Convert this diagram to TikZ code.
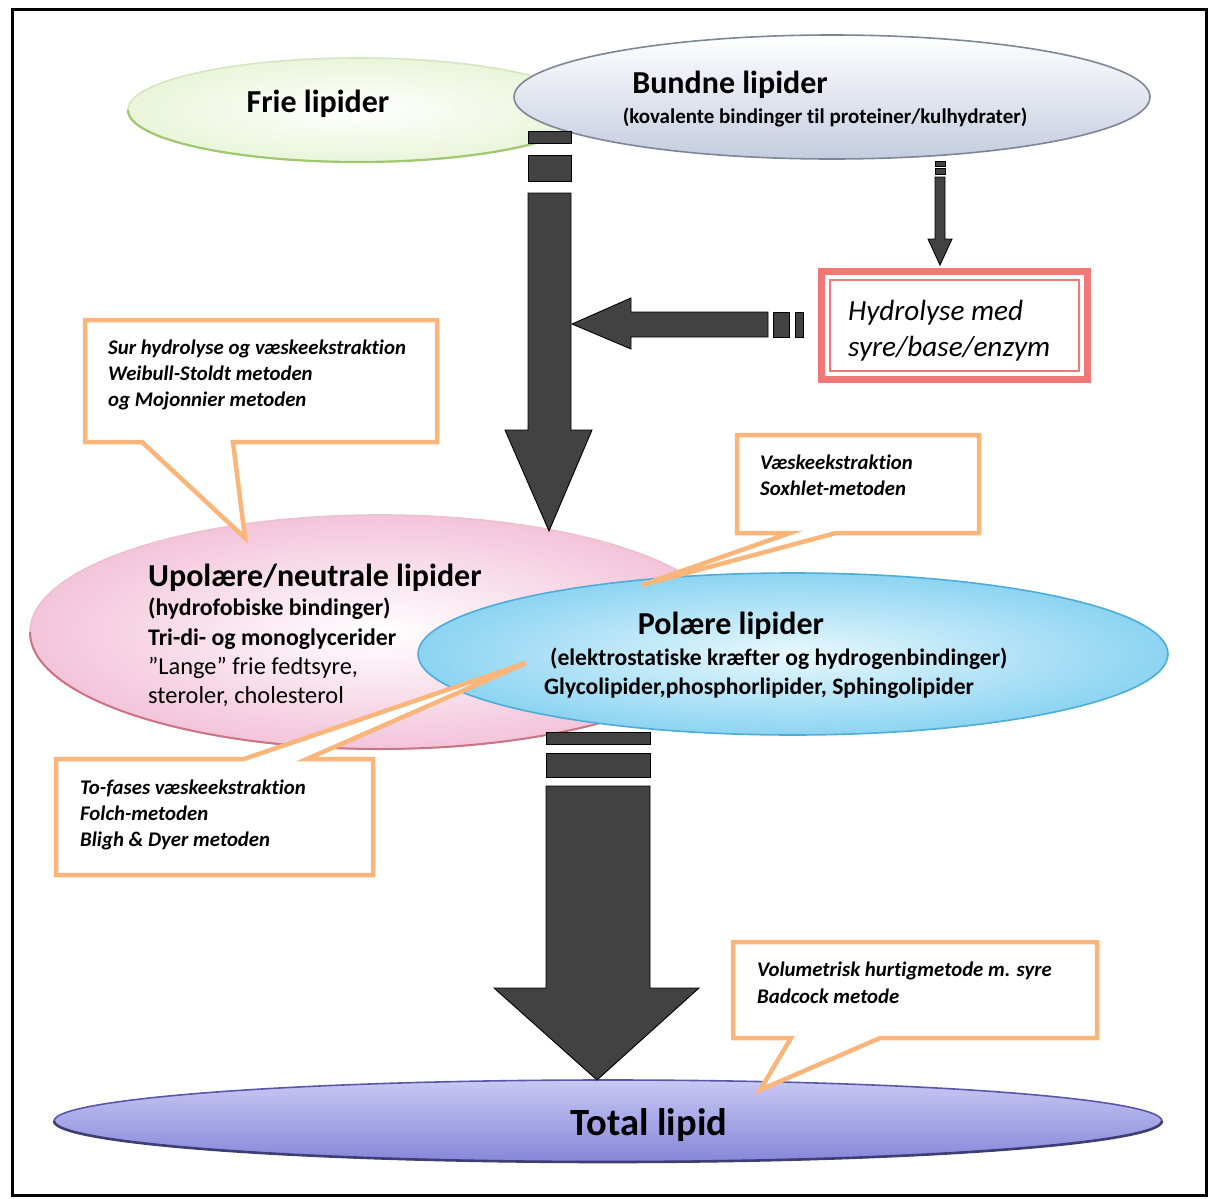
\documentclass[tikz,border=0pt]{standalone}
\usepackage{fontspec}
\setmainfont[Ligatures=NoCommon]{Carlito}
\usetikzlibrary{shapes.geometric}

\definecolor{arrowgray}{RGB}{66,66,66}
\definecolor{calloutorange}{RGB}{250,182,122}
\definecolor{hydrored}{RGB}{241,120,118}
\definecolor{frieedge}{RGB}{160,200,110}
\definecolor{frieouter}{RGB}{234,245,218}
\definecolor{bundneedge}{RGB}{125,134,150}
\definecolor{bundnebot}{RGB}{196,204,224}
\definecolor{pinkouter}{RGB}{243,196,218}
\definecolor{pinkedge}{RGB}{226,150,170}
\definecolor{pinkdark}{RGB}{190,80,100}
\definecolor{blueinner}{RGB}{232,248,253}
\definecolor{blueouter}{RGB}{140,212,242}
\definecolor{blueedge}{RGB}{78,172,216}
\definecolor{totaltop}{RGB}{200,200,244}
\definecolor{totalmid}{RGB}{170,170,236}
\definecolor{totalbot}{RGB}{134,134,218}
\definecolor{totaledge}{RGB}{88,88,170}

\begin{document}
\begin{tikzpicture}[x=1pt,y=-1pt,
  blob/.style={ellipse, inner sep=0pt, outer sep=0pt, line width=1.6pt},
  blockarrow/.style={fill=arrowgray, draw=black, line width=0.9pt, line join=miter},
  callout/.style={fill=white, draw=calloutorange, line width=4.5pt, line join=miter},
  titletext/.style={font=\bfseries\fontsize{32}{36}\selectfont, inner sep=0pt, anchor=base},
  upolbold/.style={font=\bfseries\fontsize{23.8}{26}\selectfont, inner sep=0pt, anchor=base west},
  upolplain/.style={font=\fontsize{24.4}{26}\selectfont, inner sep=0pt, anchor=base west},
  polarline/.style={font=\bfseries\fontsize{23.6}{26}\selectfont, inner sep=0pt, anchor=base west},
  notetext/.style={font=\bfseries\itshape\fontsize{20.8}{24}\selectfont, inner sep=0pt, anchor=base west},
  hydrotext/.style={font=\itshape\fontsize{29.2}{32}\selectfont, inner sep=0pt, anchor=base west}
]
\useasboundingbox (0,0) rectangle (1211,1199);
\fill[white] (0,0) rectangle (1211,1199);

% outer frame
\draw[line width=3pt] (12,10) rectangle (1206,1195);

% ---- lipid classes ----
\node[blob, minimum width=460pt, minimum height=104pt, draw=frieedge!45,
      inner color=white, outer color=frieouter] (frie) at (358,110) {};
\draw[frieedge, line width=2.2pt] (frie.west) arc[start angle=180, end angle=360, x radius=230pt, y radius=52pt];

\node[blob, minimum width=636pt, minimum height=124pt, draw=bundneedge,
      top color=white, bottom color=bundnebot] (bundne) at (832,97) {};

\node[blob, minimum width=700pt, minimum height=234pt, draw=pinkedge!60,
      inner color=white, outer color=pinkouter] (upol) at (380,632) {};
\draw[pinkdark!80, line width=2pt] (upol.west) arc[start angle=180, end angle=360, x radius=350pt, y radius=117pt];

\node[blob, minimum width=750pt, minimum height=162pt, draw=blueedge,
      inner color=blueinner, outer color=blueouter] (polar) at (793,654) {};

\node[blob, minimum width=1108pt, minimum height=82pt, draw=totaledge,
      top color=totaltop, middle color=totalmid, bottom color=totalbot] (total) at (608,1121) {};
\draw[totaledge!70!black, line width=2.6pt] (total.west) arc[start angle=180, end angle=360, x radius=554pt, y radius=41pt];

% ---- block arrows ----
% bound/free lipids down to the neutral lipids
\draw[blockarrow] (528,131) rectangle (571,143);
\draw[blockarrow] (528,155) rectangle (571,181);
\draw[blockarrow] (528,193) -- (571,193) -- (571,430) -- (592,430) -- (549,531)
  -- (505,430) -- (528,430) -- cycle;

% bound lipids down to hydrolysis
\draw[blockarrow] (935,161) rectangle (945,166);
\draw[blockarrow] (935,168) rectangle (945,174);
\draw[blockarrow] (935,177) -- (945,177) -- (945,239) -- (952,239) -- (940,265)
  -- (928,239) -- (935,239) -- cycle;

% hydrolysis back to the main stream
\draw[blockarrow] (795,312) rectangle (803,337);
\draw[blockarrow] (773,312) rectangle (789,337);
\draw[blockarrow] (768,312) -- (768,337) -- (631,337) -- (631,349) -- (572,324)
  -- (631,298) -- (631,312) -- cycle;

% polar/neutral lipids down to total lipid
\draw[blockarrow] (546,732) rectangle (650,744);
\draw[blockarrow] (546,753) rectangle (650,777);
\draw[blockarrow] (546,786) -- (650,786) -- (650,988) -- (699,988) -- (597,1080)
  -- (494,988) -- (546,988) -- cycle;

% ---- hydrolysis box ----
\draw[hydrored, line width=7pt, fill=white] (821.5,271.5) rectangle (1087.5,379.5);
\draw[hydrored, line width=1.8pt] (830,280) rectangle (1079,371);
\coordinate (hydro) at (954,325);

% ---- method callouts ----
\draw[callout] (85,320) -- (437,320) -- (437,442) -- (233,442) -- (245,538)
  -- (142,442) -- (85,442) -- cycle;
\draw[callout] (737,435) -- (979,435) -- (979,533) -- (836,533) -- (642,585)
  -- (790,533) -- (737,533) -- cycle;
\draw[callout] (56,759) -- (244,759) -- (526,663) -- (307,759) -- (373,759)
  -- (373,875) -- (56,875) -- cycle;
\draw[callout] (733,942) -- (1097,942) -- (1097,1038) -- (880,1038) -- (760,1090)
  -- (791,1038) -- (733,1038) -- cycle;

% ---- texts ----
\node[titletext] (frieT) at (318,112) {Frie lipider};
\node[titletext] (bundneT) at (730,93) {Bundne lipider};
\node[font=\bfseries\fontsize{21}{24}\selectfont, inner sep=0pt, anchor=base] (bundneS) at (825,123)
  {(kovalente bindinger til proteiner/kulhydrater)};

\node[hydrotext] (hydro1) at (848,320) {Hydrolyse med};
\node[hydrotext] (hydro2) at (848,356) {syre/base/enzym};

\node[notetext] (c1a) at (108,354) {Sur hydrolyse og væskeekstraktion};
\node[notetext] (c1b) at (108,380) {Weibull-Stoldt metoden};
\node[notetext] (c1c) at (108,406) {og Mojonnier metoden};

\node[titletext, anchor=base west] (upolT) at (148,586) {Upolære/neutrale lipider};
\node[upolbold] (upol1) at (148,615) {(hydrofobiske bindinger)};
\node[upolbold] (upol2) at (148,645) {Tri-di- og monoglycerider};
\node[upolplain] (upol3) at (148,674) {”Lange” frie fedtsyre,};
\node[upolplain] (upol4) at (148,703) {steroler, cholesterol};

\node[notetext] (c2a) at (760,469) {Væskeekstraktion};
\node[notetext] (c2b) at (760,495) {Soxhlet-metoden};

\node[titletext] (polarT) at (731,634) {Polære lipider};
\node[polarline] (polar1) at (550,665) {(elektrostatiske kræfter og hydrogenbindinger)};
\node[polarline] (polar2) at (544,694) {Glycolipider,phosphorlipider, Sphingolipider};

\node[notetext] (c3a) at (80,794) {To-fases væskeekstraktion};
\node[notetext] (c3b) at (80,820) {Folch-metoden};
\node[notetext] (c3c) at (80,846) {Bligh \& Dyer metoden};

\node[notetext] (c4a) at (757,976) {Volumetrisk hurtigmetode m. syre};
\node[notetext] (c4b) at (757,1003) {Badcock metode};

\node[titletext, font=\bfseries\fontsize{38.5}{42}\selectfont] (totalT) at (649,1135) {Total lipid};
\end{tikzpicture}
\end{document}
